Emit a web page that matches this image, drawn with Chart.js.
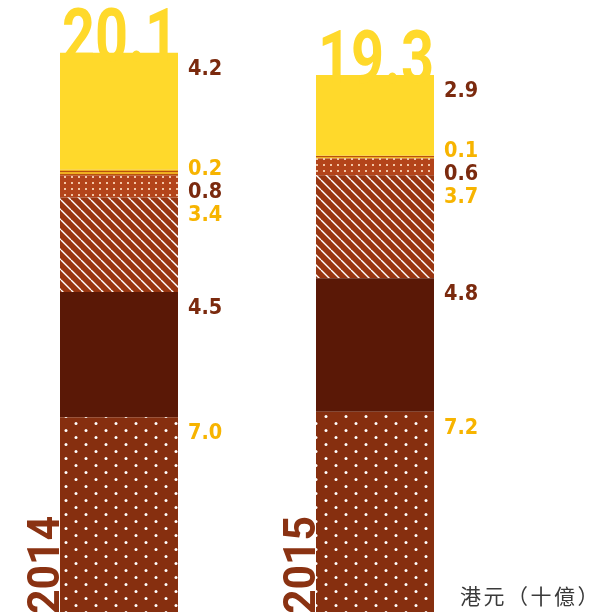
<!DOCTYPE html>
<html>
<head>
<meta charset="utf-8">
<script src="https://cdn.jsdelivr.net/npm/chart.js@4"></script>
<style>
  html, body { margin: 0; padding: 0; background: #fff; overflow: hidden; }
  #wrap { position: absolute; left: -9px; top: 0; width: 620px; height: 612px; }
</style>
</head>
<body>
<div id="wrap"><canvas id="chart"></canvas></div>
<script>
// ===== DATA =====
const years = ['2014', '2015'];
const dotted = [7.0, 7.2];     // bottom, white dots
const solid = [4.5, 4.8];      // dark brown
const hatched = [3.4, 3.7];    // diagonal lines
const smallDots = [0.8, 0.6];  // orange w/ light dots
const thin = [0.2, 0.1];       // gold stripes
const top6 = [4.2, 2.9];       // yellow
const unitLabel = '港元（十億）';

const SHIFT = 9; // canvas sits 9px left of the page

// ===== COLOURS =====
const yellow = '#ffd92b';
const labelYellow = '#f7b400';
const labelBrown = '#7b2a0e';

// ===== PATTERNS =====
function makePattern(w, h, draw) {
    const c = document.createElement('canvas');
    c.width = w; c.height = h;
    const g = c.getContext('2d');
    draw(g, w, h);
    return g.createPattern(c, 'repeat');
}

const dotPattern = makePattern(20, 14, (g, w, h) => {
    g.fillStyle = '#862f0f';
    g.fillRect(0, 0, w, h);
    g.fillStyle = '#ffffff';
    g.beginPath(); g.arc(5, 3.5, 1.5, 0, Math.PI * 2); g.fill();
    g.beginPath(); g.arc(15, 10.5, 1.5, 0, Math.PI * 2); g.fill();
});

const hatchPattern = makePattern(10, 10, (g, w, h) => {
    g.fillStyle = '#983611';
    g.fillRect(0, 0, w, h);
    g.strokeStyle = '#ffffff';
    g.lineWidth = 1.4;
    [-10, 0, 10].forEach(k => {
        g.beginPath(); g.moveTo(k, 0); g.lineTo(k + 10, 10); g.stroke();
    });
});

const smallDotPattern = makePattern(7, 6, (g, w, h) => {
    g.fillStyle = '#b3441a';
    g.fillRect(0, 0, w, h);
    g.fillStyle = '#f3c6a6';
    g.fillRect(3, 2, 2, 2);
});

const stripePattern = makePattern(4, 3, (g, w, h) => {
    g.fillStyle = '#f0b020';
    g.fillRect(0, 0, w, h);
    g.fillStyle = '#b9500f';
    g.fillRect(0, 0, w, 1);
});

// ===== LABEL PLUGIN =====
const labelPlugin = {
    id: 'labels',
    afterDatasetsDraw(chart) {
        const ctx = chart.ctx;
        const ds = chart.data.datasets;
        const gap = 23;

        years.forEach((yr, i) => {
            const metas = ds.map((d, k) => chart.getDatasetMeta(k).data[i]);
            const bottom = metas[0];
            const topBar = metas[metas.length - 1];
            const left = bottom.x - bottom.width / 2;
            const right = bottom.x + bottom.width / 2;

            // value labels, spread when they collide
            let items = metas.map((el, k) => ({
                want: el.y + 14,
                text: ds[k].data[i].toFixed(1),
                color: ds[k].labelColor
            })).sort((a, b) => a.want - b.want);

            let groups = items.map(it => ({ items: [it] }));
            const place = g => {
                const mean = g.items.reduce((s, it) => s + it.want, 0) / g.items.length;
                g.items.forEach((it, n) => {
                    it.y = mean - (g.items.length - 1) * gap / 2 + n * gap;
                });
            };
            groups.forEach(place);
            let merged = true;
            while (merged) {
                merged = false;
                for (let n = 0; n < groups.length - 1; n++) {
                    const a = groups[n], b = groups[n + 1];
                    if (a.items[a.items.length - 1].y + gap > b.items[0].y) {
                        a.items = a.items.concat(b.items);
                        groups.splice(n + 1, 1);
                        place(a);
                        merged = true;
                        break;
                    }
                }
            }
            groups.forEach(g => {
                if (g.items.length > 1) g.items.forEach(it => it.y -= 5);
            });

            ctx.save();
            ctx.font = 'bold 21px "DejaVu Sans"';
            ctx.textAlign = 'left';
            ctx.textBaseline = 'alphabetic';
            items.forEach(it => {
                ctx.save();
                ctx.fillStyle = it.color;
                ctx.translate(right + 10, it.y + 8);
                ctx.scale(0.92, 1);
                ctx.fillText(it.text, 0, 0);
                ctx.restore();
            });
            ctx.restore();

            // big total above the bar
            const total = ds.reduce((s, d) => s + d.data[i], 0).toFixed(1);
            ctx.save();
            ctx.font = 'bold 75px Roboto';
            ctx.fillStyle = yellow;
            ctx.textBaseline = 'alphabetic';
            const tw = ctx.measureText(total).width;
            const sx = (bottom.width - 2) / tw;
            ctx.translate(left + 2, topBar.y + 8);
            ctx.scale(sx, 1);
            ctx.fillText(total, 0, 0);
            ctx.restore();

            // year, rotated
            ctx.save();
            ctx.font = 'bold 45px Roboto';
            ctx.fillStyle = '#8a3212';
            ctx.textBaseline = 'alphabetic';
            ctx.translate(left - 1, 614);
            ctx.rotate(-Math.PI / 2);
            ctx.scale(0.95, 1);
            ctx.fillText(yr, 0, 0);
            ctx.restore();
        });

        // unit
        ctx.save();
        ctx.font = '21px "Noto Sans CJK TC"';
        ctx.letterSpacing = '2.5px';
        ctx.fillStyle = '#3a3a3a';
        ctx.textBaseline = 'alphabetic';
        ctx.fillText(unitLabel, 460 + SHIFT, 604);
        ctx.restore();
    }
};

// ===== CHART =====
new Chart(document.getElementById('chart'), {
    type: 'bar',
    data: {
        labels: years,
        datasets: [
            { data: dotted, backgroundColor: dotPattern, labelColor: labelYellow },
            { data: solid, backgroundColor: '#5a1806', labelColor: labelBrown },
            { data: hatched, backgroundColor: hatchPattern, labelColor: labelYellow },
            { data: smallDots, backgroundColor: smallDotPattern, labelColor: labelBrown },
            { data: thin, backgroundColor: stripePattern, labelColor: labelYellow },
            { data: top6, backgroundColor: yellow, labelColor: labelBrown }
        ]
    },
    options: {
        responsive: true,
        maintainAspectRatio: false,
        animation: false,
        layout: { padding: { left: 0, right: 108, top: 0, bottom: 0 } },
        datasets: {
            bar: {
                borderWidth: 0,
                categoryPercentage: 1,
                barPercentage: 118 / 256
            }
        },
        plugins: {
            legend: { display: false },
            tooltip: { enabled: false }
        },
        scales: {
            x: { stacked: true, display: false },
            y: { stacked: true, display: false, min: 0, max: 22 }
        }
    },
    plugins: [labelPlugin]
});
</script>
</body>
</html>
